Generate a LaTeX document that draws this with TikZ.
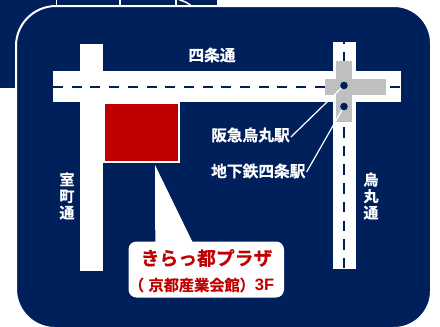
\documentclass[tikz,border=0pt]{standalone}
\usepackage{fontspec}
\newfontfamily\jpfont{Noto Sans CJK JP}[BoldFont={Noto Sans CJK JP Bold},BoldFeatures={FakeBold=0.5}]
\setsansfont{Liberation Sans}
\definecolor{navy}{RGB}{0,32,92}
\definecolor{kred}{RGB}{192,0,0}
\definecolor{stgrey}{RGB}{191,191,191}
\tikzset{
  road/.style={fill=white,draw=none},
  lane/.style={draw=navy,line width=2.2pt},
  station/.style={fill=stgrey,draw=none},
  stopdot/.style={circle,fill=navy,minimum size=7.6pt,inner sep=0pt},
  leader/.style={draw=white,line width=1.2pt},
  maplabel/.style={text=white,inner sep=0pt,font=\jpfont\bfseries\fontsize{15.7}{16}\selectfont},
  vlabel/.style={text=white,inner sep=0pt,align=center,font=\jpfont\bfseries\fontsize{15}{16.5}\selectfont},
}
\begin{document}
\begin{tikzpicture}[x=1pt,y=-1pt]
\useasboundingbox (0,0) rectangle (440,327);
\fill[white] (0,0) rectangle (440,327);
% behind panel: cropped top-left remains
\fill[navy] (0,0) rectangle (217,20);
\fill[navy] (0,0) rectangle (16,88);
\fill[navy] (0,0) rectangle (40,40);
\fill[white] (56,0) rectangle (57.3,6);
\fill[white] (119,0) rectangle (121,6);
\draw[white,line width=1.3pt] (176,0) -- (176,6);
\draw[white,line width=1.5pt] (179.5,0) .. controls (184,1) and (188,3) .. (191.5,6);
% panel
\draw[white,line width=2pt,fill=navy] (16,46) arc[start angle=180,end angle=270,radius=40]
  -- (394,6) arc[start angle=270,end angle=360,radius=37]
  -- (431,291) arc[start angle=0,end angle=90,radius=37]
  -- (55,328) arc[start angle=90,end angle=180,radius=39] -- cycle;
% roads
\fill[road] (80,44) rectangle (103,271);
\fill[road] (333,42) rectangle (356,269);
\fill[road] (53,71) rectangle (401,102);
% lanes
\draw[lane,dash pattern=on 10pt off 8.7pt] (53,87) -- (401,87);
\draw[lane,dash pattern=on 10.5pt off 8.2pt,dash phase=8.5pt] (344,42) -- (344,269);
% station
\fill[station] (336,61) rectangle (352,122);
\fill[station] (325,79) rectangle (386,95);
% building
\fill[kred,draw=white,line width=1.8pt] (104,103.2) rectangle (178.7,162.3);
% labels
\node[maplabel] (shijo) at (212,55) {四条通};
\node[vlabel] (muromachi) at (67,196) {室\\町\\通};
\node[vlabel] (karasuma) at (371,196) {烏\\丸\\通};
\node[maplabel,anchor=west] (hankyu) at (211,135) {阪急烏丸駅};
\node[maplabel,anchor=west] (subway) at (211,171) {地下鉄四条駅};
% station points and leaders
\coordinate (p1) at (344,85.5);
\coordinate (p2) at (344,106.5);
\draw[leader] (p1) -- ([xshift=1pt,yshift=-2pt]hankyu.east);
\draw[leader] (p2) -- ([xshift=1pt,yshift=-1pt]subway.east);
\node[stopdot] (st1) at (p1) {};
\node[stopdot] (st2) at (p2) {};
% callout
\fill[white] (155,165) -- (155.3,243) -- (193,243) -- cycle;
\fill[white,rounded corners=8pt] (128.5,241.5) rectangle (284,297.5);
\node[inner sep=0pt,text=kred,font=\jpfont\bfseries\fontsize{18.8}{19}\selectfont] (name) at (206.5,258) {きらっ都プラザ};
\node[inner sep=0pt,text=kred,font=\jpfont\bfseries\fontsize{15.2}{15}\selectfont] (sub) at (201.5,285) {（\kern4.5pt 京都産業会館）{\sffamily\bfseries\fontsize{16.5}{15}\selectfont 3F}};
\end{tikzpicture}
\end{document}
